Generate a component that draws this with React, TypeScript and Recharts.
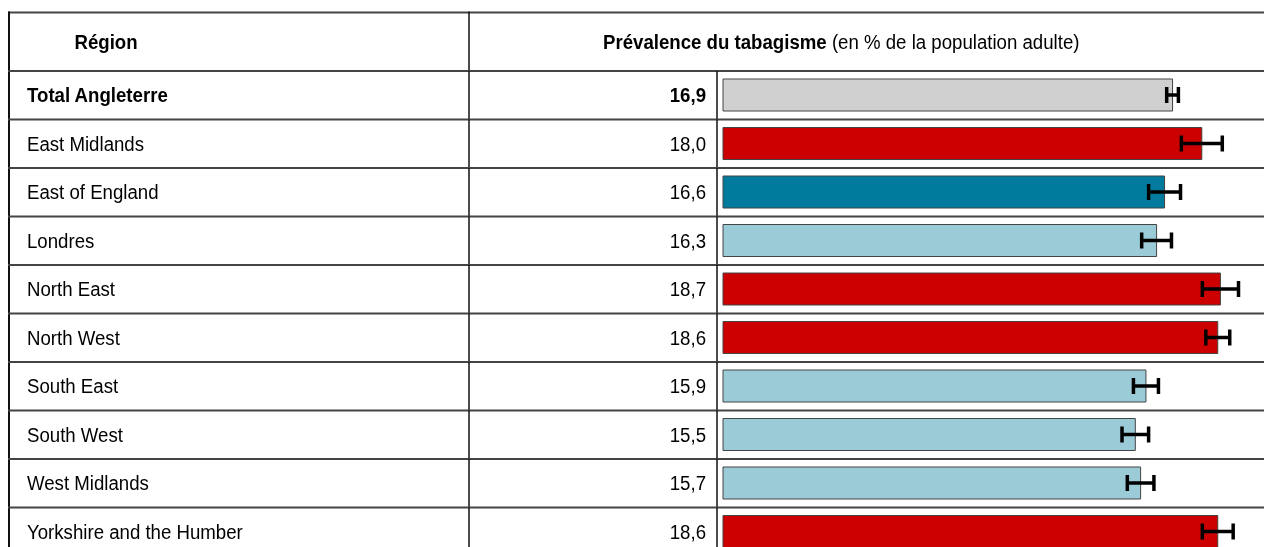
import React from "react";
import { BarChart, Bar, XAxis, YAxis, Cell, ErrorBar } from "recharts";

const regions = [
  "Total Angleterre",
  "East Midlands",
  "East of England",
  "Londres",
  "North East",
  "North West",
  "South East",
  "South West",
  "West Midlands",
  "Yorkshire and the Humber",
];
const prevalence = [16.9, 18.0, 16.6, 16.3, 18.7, 18.6, 15.9, 15.5, 15.7, 18.6];
const errorMargin = [0.22, 0.77, 0.6, 0.56, 0.68, 0.45, 0.47, 0.5, 0.5, 0.58];
const valueLabels = ["16,9", "18,0", "16,6", "16,3", "18,7", "18,6", "15,9", "15,5", "15,7", "18,6"];
const headerRegion = "Région";
const headerTitleBold = "Prévalence du tabagisme";
const headerTitleRest = " (en % de la population adulte)";

const barColors = ["#d0d0d0", "#cc0000", "#007b9e", "#9ccbd8", "#cc0000", "#cc0000", "#9ccbd8", "#9ccbd8", "#9ccbd8", "#cc0000"];

const data = regions.map((r, i) => ({
  region: r,
  value: prevalence[i],
  err: errorMargin[i],
  label: valueLabels[i],
}));

const W = 1256;
const H = 560;
const TOP = 63;
const ROW = 48.5;
const COL1 = 461;
const COL2 = 709;
const FONT = "'Liberation Sans', Arial, sans-serif";
const FS = 21;
const SX = 0.888;
const LINE = "#444";

const T = ({ x, y, anchor = "start", bold = false, children }: any) => (
  <g transform={`translate(${x},${y}) scale(${SX},1)`}>
    <text x={0} y={0} textAnchor={anchor} fontFamily={FONT} fontSize={FS} fontWeight={bold ? "bold" : "normal"} fill="#000">
      {children}
    </text>
  </g>
);

const Tick = (props: any) => {
  const { y, payload, index } = props;
  const top = y - ROW / 2;
  const bold = index === 0;
  const last = index === regions.length - 1;
  return (
    <g>
      {index === 0 && (
        <g>
          <line x1={0} x2={W} y1={4.5} y2={4.5} stroke={LINE} strokeWidth={2} />
          <line x1={1} x2={1} y1={3.5} y2={H} stroke="#111" strokeWidth={2} />
          <line x1={COL1} x2={COL1} y1={3.5} y2={TOP} stroke="#111" strokeWidth={1.5} />
          <T x={98} y={41} anchor="middle" bold>
            {headerRegion}
          </T>
          <T x={595} y={41}>
            <tspan fontWeight="bold">{headerTitleBold}</tspan>
            <tspan>{headerTitleRest}</tspan>
          </T>
        </g>
      )}
      <line x1={0} x2={W} y1={top} y2={top} stroke={LINE} strokeWidth={2} />
      {last && <line x1={0} x2={W} y1={top + ROW} y2={top + ROW} stroke={LINE} strokeWidth={2} />}
      <line x1={COL1} x2={COL1} y1={top} y2={top + ROW} stroke="#111" strokeWidth={1.5} />
      <line x1={COL2} x2={COL2} y1={top} y2={top + ROW} stroke="#111" strokeWidth={1.5} />
      <T x={19} y={y + 7} bold={bold}>
        {payload.value}
      </T>
      <T x={698} y={y + 7} anchor="end" bold={bold}>
        {data[index] ? data[index].label : ""}
      </T>
    </g>
  );
};

export default function App() {
  return (
    <div style={{ position: "fixed", top: 8, left: 8 }}>
      <BarChart
        width={W}
        height={H}
        data={data}
        layout="vertical"
        margin={{ top: TOP, right: 9, bottom: H - TOP - ROW * regions.length, left: 0 }}
        barSize={32}
      >
        <XAxis type="number" domain={[0, 20]} hide />
        <YAxis
          type="category"
          dataKey="region"
          width={715}
          axisLine={false}
          tickLine={false}
          tick={<Tick />}
          interval={0}
        />
        <Bar dataKey="value" stroke="#444" strokeWidth={1} isAnimationActive={false}>
          {data.map((d, i) => (
            <Cell key={d.region} fill={barColors[i]} />
          ))}
          <ErrorBar dataKey="err" direction="x" width={8} strokeWidth={3.5} stroke="#000" />
        </Bar>
      </BarChart>
    </div>
  );
}
